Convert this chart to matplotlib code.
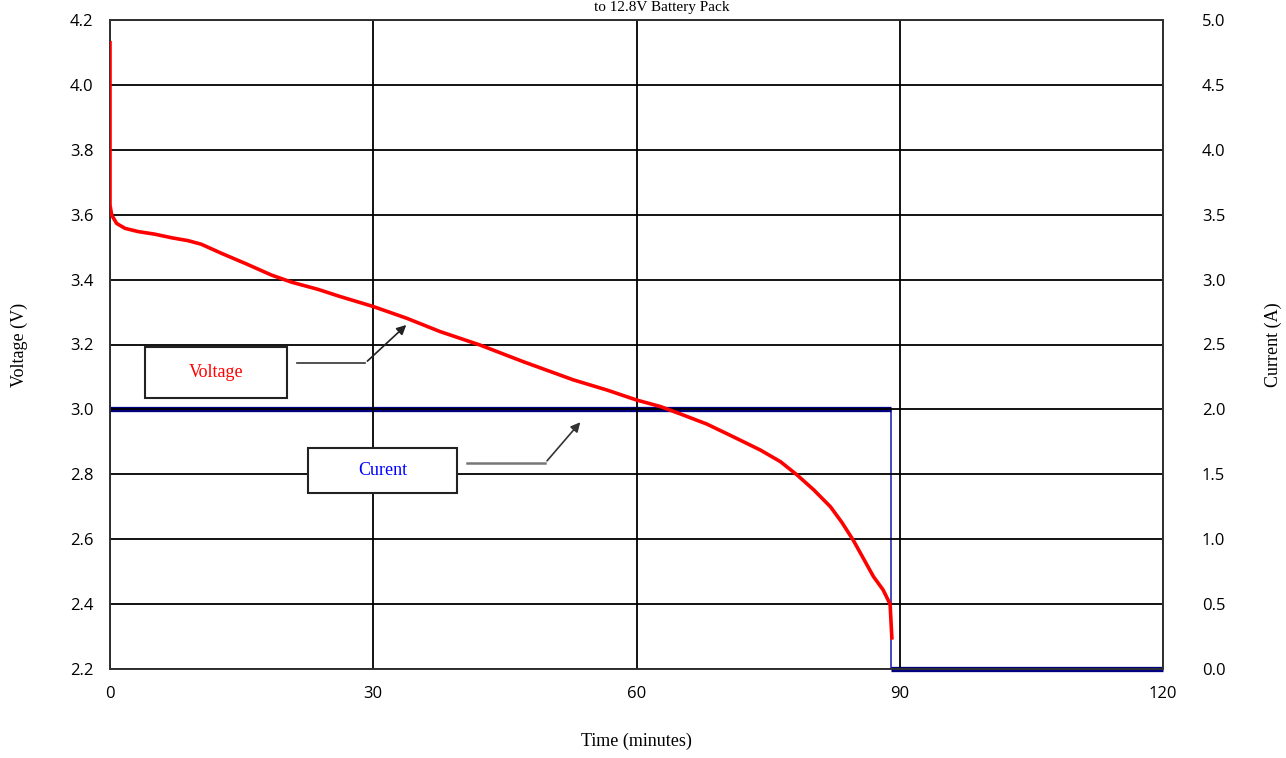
import matplotlib.pyplot as plt
from matplotlib.patches import Rectangle

# discharge data
time_v = [0, 0, 0.19, 0.76, 1.7, 3.2, 5.1, 7.0, 8.9, 10.4, 12.7, 15.4, 18.4, 20.7,
          23.7, 26.2, 30.0, 33.8, 37.6, 42.2, 47.1, 52.8, 56.6, 60.0, 62.7, 65.0,
          68.0, 71.0, 74.1, 76.4, 78.3, 80.2, 82.1, 83.4, 84.7, 87.0, 88.1, 88.9, 89.1]
voltage = [4.13, 3.63, 3.599, 3.573, 3.558, 3.548, 3.540, 3.529, 3.520, 3.509, 3.481,
           3.450, 3.414, 3.392, 3.370, 3.348, 3.317, 3.281, 3.240, 3.198, 3.147, 3.091,
           3.060, 3.029, 3.009, 2.986, 2.955, 2.916, 2.875, 2.839, 2.798, 2.752, 2.700,
           2.652, 2.597, 2.485, 2.444, 2.40, 2.296]

time_i = [0, 0, 89.0, 89.0, 120]
current = [0, 2.0, 2.0, 0, 0]

x_ticks = [0, 30, 60, 90, 120]
v_ticks = [2.2, 2.4, 2.6, 2.8, 3.0, 3.2, 3.4, 3.6, 3.8, 4.0, 4.2]
i_ticks = [0, 0.5, 1.0, 1.5, 2.0, 2.5, 3.0, 3.5, 4.0, 4.5, 5.0]

serif = 'Liberation Serif'

fig = plt.figure(figsize=(12.86, 7.58), dpi=100)
ax = fig.add_axes([110 / 1286, 1 - 669 / 758, (1163 - 110) / 1286, (669 - 20) / 758])
ax2 = ax.twinx()

# current on right axis (thin verticals, thick flat runs)
ax2.plot(time_i, current, color='#3a3ab8', lw=1.3, zorder=3, clip_on=False)
for k in range(len(time_i) - 1):
    if current[k] == current[k + 1]:
        ax2.plot(time_i[k:k + 2], current[k:k + 2], color='#000080', lw=3.8,
                 solid_capstyle='butt', zorder=4, clip_on=False)

ax.plot(time_v, voltage, color='red', lw=2.6, zorder=5, solid_joinstyle='round')
ax.set_zorder(ax2.get_zorder() + 1)
ax.patch.set_visible(False)

ax.set_xlim(0, 120)
ax.set_ylim(2.2, 4.2)
ax2.set_ylim(0, 5)
ax.set_xticks(x_ticks)
ax.set_yticks(v_ticks)
ax2.set_yticks(i_ticks)
ax.set_yticklabels([f'{v:.1f}' for v in v_ticks])
ax2.set_yticklabels([f'{v:.1f}' for v in i_ticks])
ax.grid(True, color='black', lw=1.3)
ax.tick_params(length=0, labelsize=12, pad=12)
ax2.tick_params(length=0, labelsize=12, pad=28)
for lab in ax.get_xticklabels() + ax.get_yticklabels() + ax2.get_yticklabels():
    lab.set_family('Open Sans')
for a in (ax, ax2):
    for s in a.spines.values():
        s.set_color('#333333')
        s.set_linewidth(1.3)

ax.set_xlabel('Time (minutes)', family=serif, fontsize=13, labelpad=22)
ax.set_ylabel('Voltage (V)', family=serif, fontsize=13, labelpad=30)
ax2.set_ylabel('Current (A)', family=serif, fontsize=13, labelpad=28)

# callout boxes
ax.add_patch(Rectangle((3.99, 3.035), 16.18, 0.157, facecolor='white',
                       edgecolor='#222222', lw=1.5, zorder=6))
ax.text(12.1, 3.113, 'Voltage', color='red', family=serif, fontsize=13,
        ha='center', va='center', zorder=7)
ax.add_patch(Rectangle((22.56, 2.742), 16.98, 0.139, facecolor='white',
                       edgecolor='#222222', lw=1.5, zorder=6))
ax.text(31.05, 2.812, 'Curent', color='blue', family=serif, fontsize=13,
        ha='center', va='center', zorder=7)

# leader lines with arrows
ax.plot([21.3, 29.1], [3.143, 3.143], color='#333333', lw=1.2, zorder=6)
ax.annotate('', xy=(34.0, 3.266), xytext=(29.1, 3.143), zorder=6,
            arrowprops=dict(arrowstyle='-|>', color='#222222', lw=1.2, mutation_scale=14))
ax.plot([40.7, 49.6], [2.835, 2.835], color='#777777', lw=1.8, zorder=6)
ax.annotate('', xy=(53.8, 2.967), xytext=(49.6, 2.835), zorder=6,
            arrowprops=dict(arrowstyle='-|>', color='#333333', lw=1.2, mutation_scale=14))

# title (cut off at the top edge in the reference)
fig.text(0.515, 0.999, 'to 12.8V Battery Pack', family=serif, fontsize=11,
         ha='center', va='top')

fig.savefig('out.png', dpi=100)
